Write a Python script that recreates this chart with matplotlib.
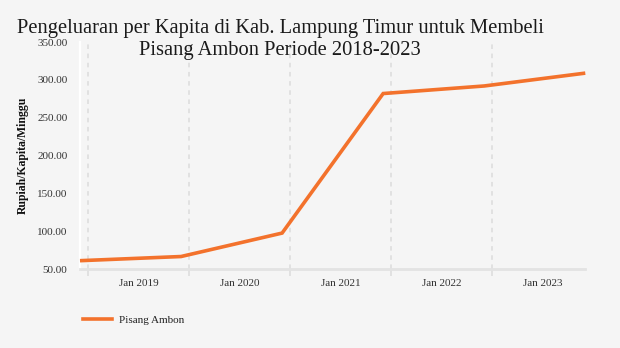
import numpy as np
import matplotlib
matplotlib.use("Agg")
import matplotlib.pyplot as plt
from matplotlib.lines import Line2D

# data (Rupiah/Kapita/Minggu)
years = [2018, 2019, 2020, 2021, 2022, 2023]
values = [61.0, 66.5, 97.5, 282.0, 292.0, 309.0]
tick_labels = ["Jan 2019", "Jan 2020", "Jan 2021", "Jan 2022", "Jan 2023"]
y_ticks = [50, 100, 150, 200, 250, 300, 350]
series_name = "Pisang Ambon"

BG = "#f5f5f5"
ORANGE = "#f3722c"
SERIF = ["Liberation Serif", "DejaVu Serif"]


def main():
    fig = plt.figure(figsize=(6.2, 3.48), dpi=100, facecolor=BG)
    ax = fig.add_axes([0.129, 0.227, 0.815, 0.652], facecolor=BG)

    x = np.array(years, dtype=float)
    ax.plot(x, values, color=ORANGE, lw=2.6, solid_capstyle="butt",
            solid_joinstyle="miter", zorder=3, clip_on=False)

    ax.set_xlim(x[0], x[-1])
    ax.set_ylim(50, 350)

    # year boundaries drawn as dashed grid, labels sit between them
    grid_x = x[:-1] + 0.08
    for gx in grid_x:
        ax.axvline(gx, color="#dcdcdc", lw=1.1, ls=(0, (3, 3)), zorder=1)
    ax.set_xticks(grid_x, minor=True)
    ax.tick_params(axis="x", which="minor", length=5, width=1.1,
                   color="#dcdcdc", direction="out")
    ax.set_xticks(x[:-1] + 0.58)
    ax.set_xticklabels(tick_labels, fontfamily=SERIF, fontsize=8,
                       color="#333333")
    ax.tick_params(axis="x", which="major", length=0, pad=7)

    ax.set_yticks(y_ticks)
    ax.set_yticklabels(["%.2f" % v for v in y_ticks], fontfamily=SERIF,
                       fontsize=8, color="#333333")
    ax.tick_params(axis="y", length=0, pad=9)

    for side in ["top", "right"]:
        ax.spines[side].set_visible(False)
    ax.spines["bottom"].set_color("#e3e3e3")
    ax.spines["bottom"].set_linewidth(2)
    ax.spines["left"].set_color("white")
    ax.spines["left"].set_linewidth(1.6)

    ax.set_ylabel("Rupiah/Kapita/Minggu", fontfamily=SERIF, fontsize=8.5,
                  fontweight="bold", color="#111111", labelpad=6)

    fig.text(0.452, 0.887, "Pengeluaran per Kapita di Kab. Lampung Timur untuk Membeli\n"
             "Pisang Ambon Periode 2018-2023", ha="center", va="center",
             fontfamily=SERIF, fontsize=14.8, color="#1a1a1a",
             linespacing=1.25)

    handle = Line2D([], [], color=ORANGE, lw=2.6)
    leg = fig.legend([handle], [series_name], loc="center left",
                     bbox_to_anchor=(0.118, 0.08), frameon=False,
                     handlelength=2.6, handletextpad=0.6,
                     prop={"family": SERIF, "size": 8})
    for t in leg.get_texts():
        t.set_color("#222222")

    fig.savefig("out.png", dpi=100, facecolor=BG)


if __name__ == "__main__":
    main()
